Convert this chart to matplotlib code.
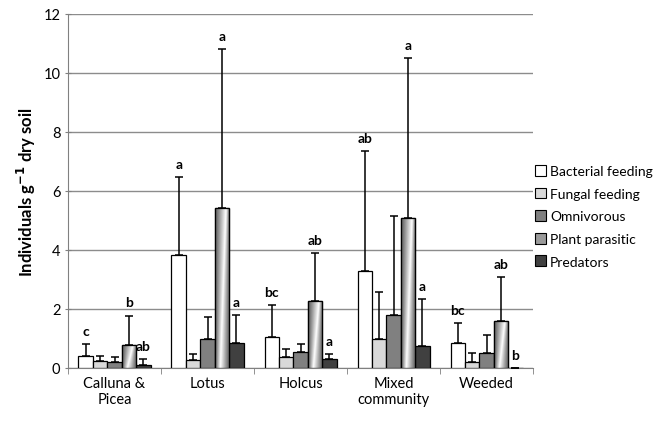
import numpy as np
import matplotlib
matplotlib.use("Agg")
import matplotlib.pyplot as plt
from matplotlib.colors import LinearSegmentedColormap
from matplotlib.patches import Patch

plt.rcParams["font.family"] = ["Lato", "DejaVu Sans"]

groups = ["Calluna &\nPicea", "Lotus", "Holcus", "Mixed\ncommunity", "Weeded"]
guilds = ["Bacterial feeding", "Fungal feeding", "Omnivorous", "Plant parasitic", "Predators"]

# mean densities per guild (rows) and treatment (columns)
bacterial = [0.40, 3.82, 1.05, 3.28, 0.85]
fungal = [0.22, 0.28, 0.37, 0.98, 0.20]
omnivorous = [0.20, 0.98, 0.54, 1.80, 0.50]
plant_parasitic = [0.77, 5.42, 2.27, 5.07, 1.58]
predators = [0.10, 0.86, 0.30, 0.74, 0.00]

# upper end of the error bars
bacterial_hi = [0.80, 6.47, 2.13, 7.35, 1.53]
fungal_hi = [0.42, 0.48, 0.64, 2.57, 0.50]
omnivorous_hi = [0.38, 1.72, 0.81, 5.15, 1.10]
plant_parasitic_hi = [1.77, 10.80, 3.90, 10.50, 3.09]
predators_hi = [0.30, 1.80, 0.47, 2.34, 0.00]

# significance letters (None = no letter)
bacterial_sig = ["c", "a", "bc", "ab", "bc"]
plant_parasitic_sig = ["b", "a", "ab", "a", "ab"]
predators_sig = ["ab", "a", "a", "a", "b"]

means = [bacterial, fungal, omnivorous, plant_parasitic, predators]
highs = [bacterial_hi, fungal_hi, omnivorous_hi, plant_parasitic_hi, predators_hi]
sigs = [bacterial_sig, None, None, plant_parasitic_sig, predators_sig]
fills = ["white", "#d9d9d9", "#808080", None, "#404040"]

fig = plt.figure(figsize=(6.57, 4.27), dpi=100)
ax = fig.add_axes([0.1035, 0.136, 0.708, 0.829])

x = np.arange(len(groups))
w = 0.155
shade = LinearSegmentedColormap.from_list("shade", ["#3a3a3a", "#9a9a9a", "#ffffff"])

for i, (m, hi) in enumerate(zip(means, highs)):
    pos = x + (i - 2) * w
    m = np.array(m)
    hi = np.array(hi)
    bars = ax.bar(pos, m, width=w, color=fills[i] or "white", edgecolor="black",
                  linewidth=0.9, zorder=3)
    ax.errorbar(pos, m, yerr=[np.zeros_like(m), hi - m], fmt="none", ecolor="black",
                elinewidth=1.1, capsize=3, capthick=1.1, zorder=4)
    if fills[i] is None:
        # shaded cylinder-like fill with a diagonal highlight
        yy, xx = np.mgrid[0:1:120j, 0:1:40j]
        edge = 0.35 + 0.4 * yy
        val = np.where(xx < edge, 0.15 + 0.85 * xx / edge,
                       1.0 - 0.85 * (xx - edge) / (1 - edge))
        for b in bars:
            bx, by = b.get_x(), b.get_y()
            im = ax.imshow(val, cmap=shade, origin="lower", aspect="auto",
                           extent=[bx, bx + b.get_width(), by, by + b.get_height()],
                           zorder=3.5, vmin=0, vmax=1)
            im.set_clip_path(b)
            ax.add_patch(plt.Rectangle((bx, by), b.get_width(), b.get_height(),
                                       fill=False, edgecolor="black", lw=0.9, zorder=3.6))
    if sigs[i] is not None:
        for xp, top, s in zip(pos, hi, sigs[i]):
            ax.text(xp, top + 0.45, s, ha="center", va="center", fontsize=10,
                    fontweight="bold", zorder=5)

ax.set_xlim(-0.5, len(groups) - 0.5)
ax.set_ylim(0, 12)
ax.set_yticks(range(0, 13, 2))
ax.set_xticks(x)
ax.set_xticklabels(groups, fontsize=10.5)
ax.set_xticks(np.arange(-0.5, len(groups), 1), minor=True)
ax.tick_params(axis="x", which="major", length=0, pad=6)
ax.tick_params(axis="x", which="minor", length=4, color="#808080")
ax.tick_params(axis="y", labelsize=10.5, length=4, color="#808080", direction="inout")
ax.yaxis.grid(True, color="#8c8c8c", linewidth=1)
ax.set_axisbelow(True)
for sp in ["top", "right"]:
    ax.spines[sp].set_visible(False)
for sp in ["left", "bottom"]:
    ax.spines[sp].set_color("#808080")
ax.set_ylabel("Individuals g$^{\\mathbf{-1}}$ dry soil", fontsize=12, fontweight="bold")

handles = [Patch(facecolor=c or "#9a9a9a", edgecolor="black", lw=0.8) for c in fills]
fig.legend(handles, guilds, loc="upper left", bbox_to_anchor=(0.795, 0.64),
           frameon=False, fontsize=10, handlelength=0.8, handleheight=0.8,
           handletextpad=0.3, labelspacing=0.75)

fig.savefig("out.png", dpi=100)
